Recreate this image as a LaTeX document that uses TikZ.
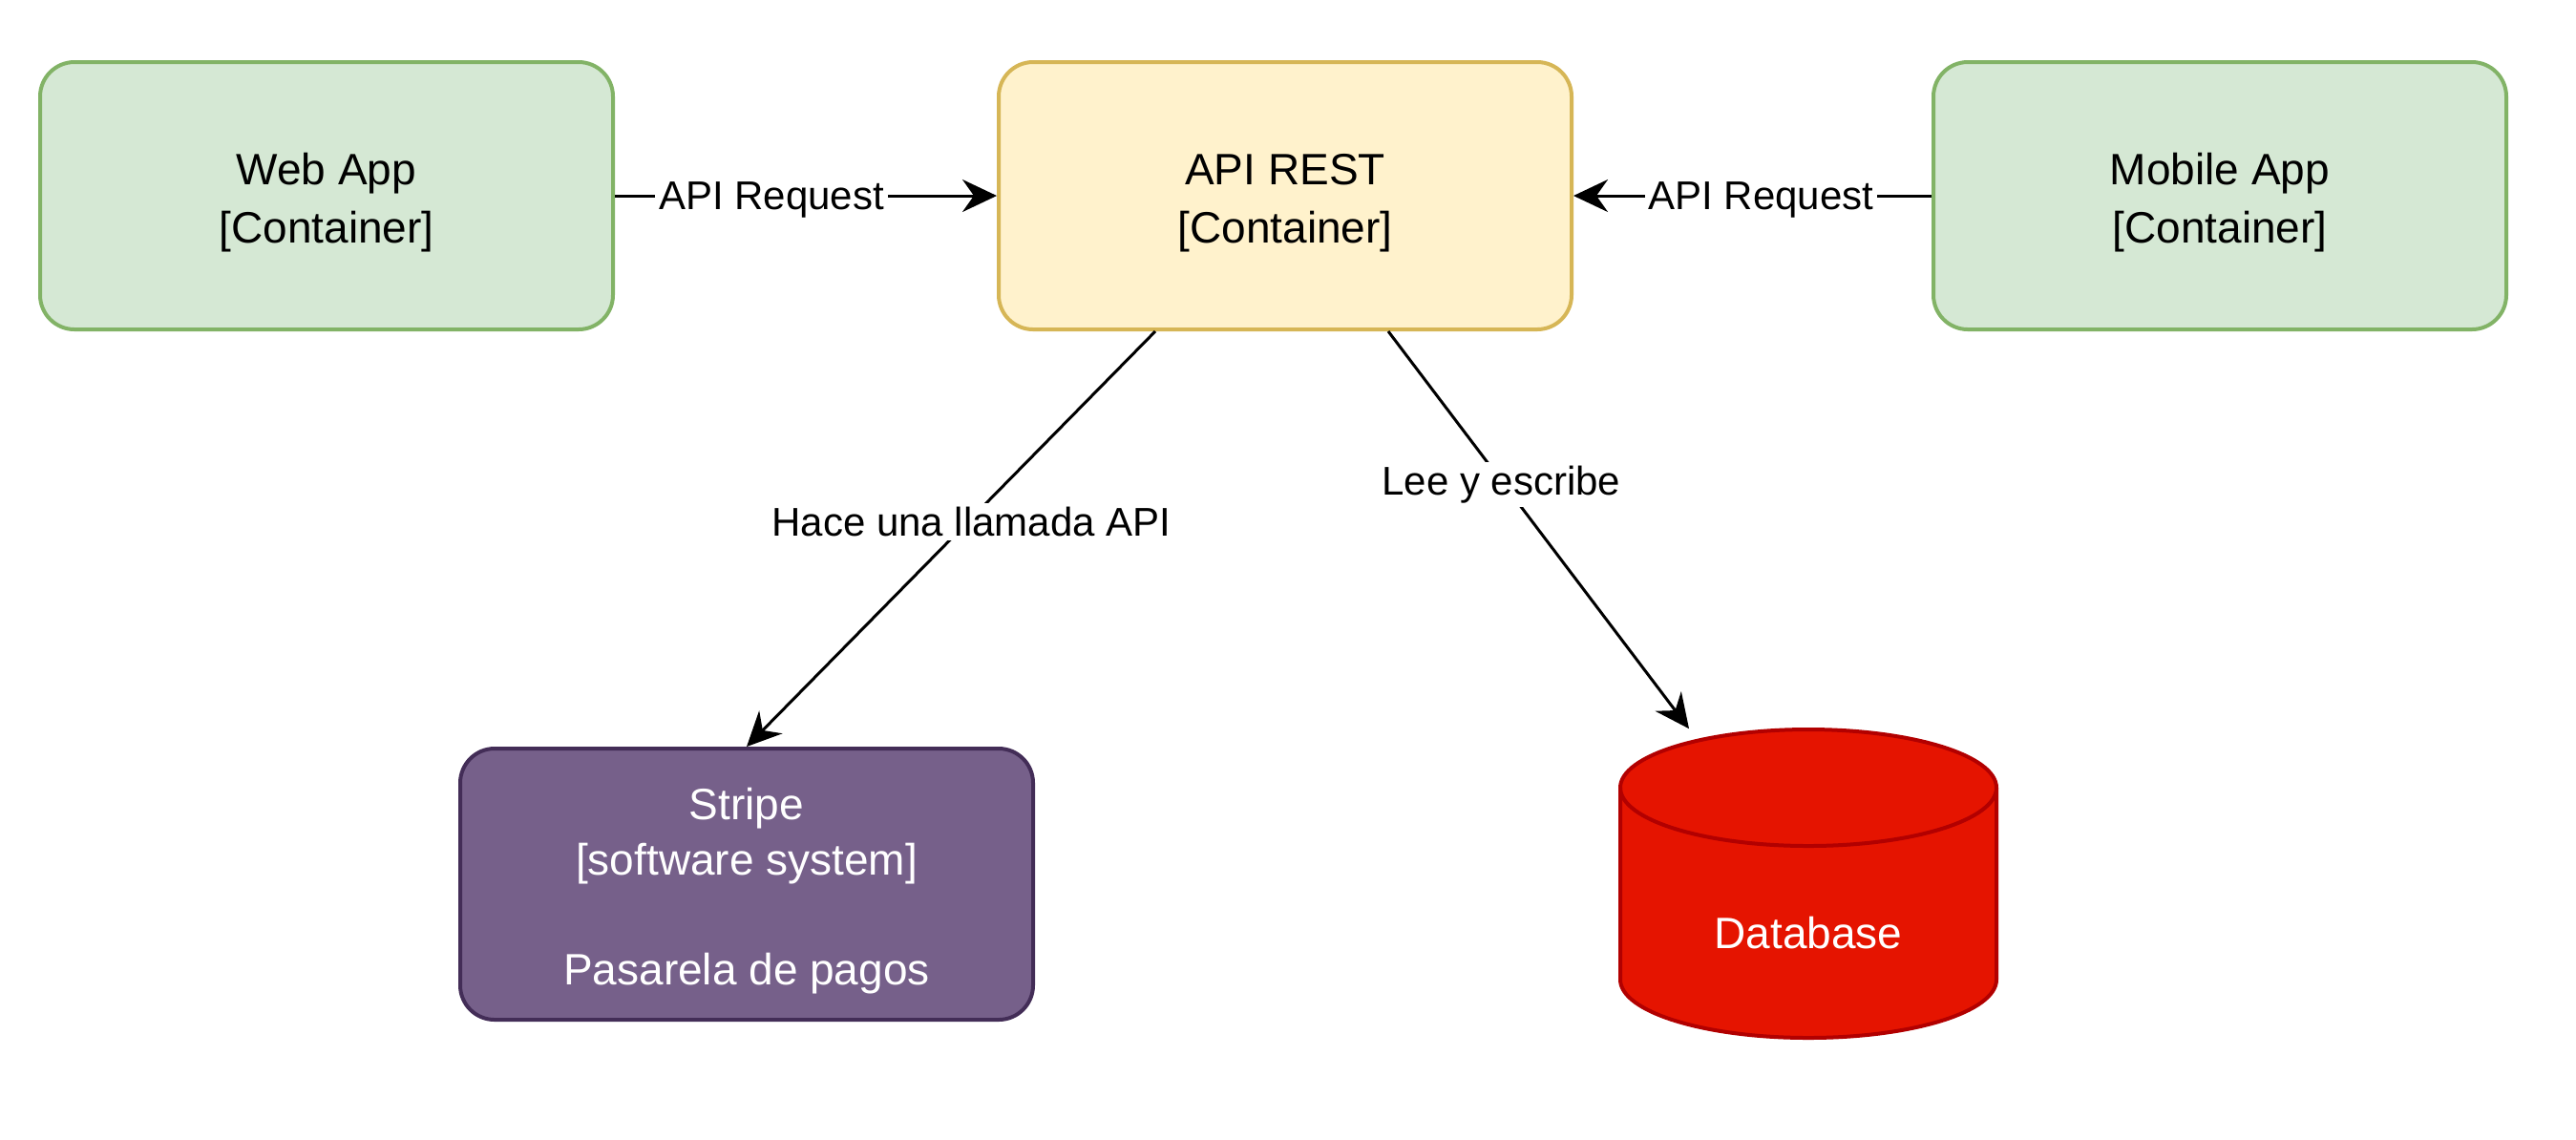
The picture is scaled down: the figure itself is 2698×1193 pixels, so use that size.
\documentclass[tikz,border=0pt]{standalone}
\usepackage{fontspec}
\setmainfont{Liberation Sans}
\usetikzlibrary{arrows.meta,calc}
\definecolor{gfill}{HTML}{D5E8D4}
\definecolor{gdraw}{HTML}{82B366}
\definecolor{yfill}{HTML}{FFF2CC}
\definecolor{ydraw}{HTML}{D6B656}
\definecolor{pfill}{HTML}{76608A}
\definecolor{pdraw}{HTML}{432D57}
\definecolor{rfill}{HTML}{E51400}
\definecolor{rdraw}{HTML}{B20000}
\newcommand{\topstrut}{\rule{0pt}{12pt}}
\tikzset{
  box/.style={draw, rounded corners=9pt, line width=1pt, minimum width=150pt, minimum height=70pt,
    align=center, font=\fontsize{11.5}{15.2}\selectfont, inner sep=0pt},
  greenbox/.style={box, fill=gfill, draw=gdraw},
  yellowbox/.style={box, fill=yfill, draw=ydraw},
  purplebox/.style={box, fill=pfill, draw=pdraw, text=white, font=\fontsize{11.5}{14.4}\selectfont},
  conn/.style={line width=0.75pt, -{Stealth[length=9pt,width=8.5pt,inset=3pt]}},
  lbl/.style={fill=white, inner sep=1pt, yshift=-1pt, font=\fontsize{10.5}{12}\selectfont}
}
\begin{document}
\begin{tikzpicture}[x=0.25pt,y=-0.25pt]
\useasboundingbox (0,0) rectangle (2698,1193);
\node[greenbox] (web) at (342,205) {\topstrut Web App\\{[Container]}};
\node[yellowbox] (api) at (1346,205) {\topstrut API REST\\{[Container]}};
\node[greenbox] (mob) at (2325,205) {\topstrut Mobile App\\{[Container]}};
\node[purplebox, minimum height=71pt] (stripe) at (782,926) {\topstrut Stripe\\{[software system]}\\[14.4pt]Pasarela de pagos};
% database cylinder
\node[minimum width=98pt, minimum height=80.75pt, inner sep=0pt] (db) at (1894,925.5) {};
\fill[rfill, draw=rdraw, line width=1pt]
  (1697,825) -- (1697,1026) arc[start angle=180, end angle=0, x radius=197, y radius=61]
  -- (2091,825) arc[start angle=0, end angle=-180, x radius=197, y radius=61] -- cycle;
\draw[rdraw, line width=1pt] (1697,825) arc[start angle=180, end angle=0, x radius=197, y radius=61];
\node[text=white, font=\fontsize{11.5}{14.5}\selectfont] (dbt) at (1894,977) {Database};
% connectors
\coordinate (apiL) at ([xshift=-34pt]api.south);
\coordinate (apiR) at ([xshift=27pt]api.south);
\coordinate (dbtop) at ([xshift=-31.25pt]db.north);
\draw[conn] (web.east) -- node[lbl, pos=0.41] {API Request} (api.west);
\draw[conn] (mob.west) -- node[lbl, pos=0.476] {API Request} (api.east);
\draw[conn] (apiL) -- node[lbl, pos=0.45] {Hace una llamada API} (stripe.north);
\draw[conn] (apiR) -- node[lbl, pos=0.376] {Lee y escribe} (dbtop);
\end{tikzpicture}
\end{document}
